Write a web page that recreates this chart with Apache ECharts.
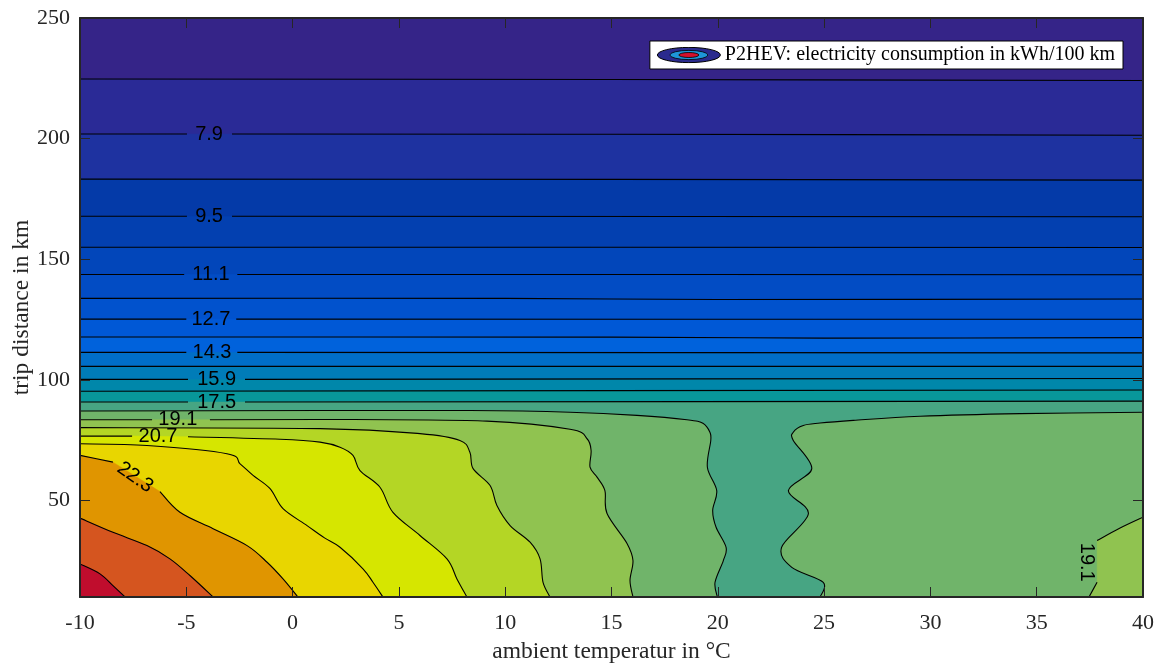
<!DOCTYPE html>
<html><head><meta charset="utf-8">
<script src="https://cdn.jsdelivr.net/npm/echarts@6/dist/echarts.min.js"></script>
<style>html,body{margin:0;padding:0;background:#fff}#c{width:1164px;height:664px}</style>
</head><body><div id="c"></div>
<script>
// ---- axes ----
const xTicks = [-10, -5, 0, 5, 10, 15, 20, 25, 30, 35, 40];
const yTicks = [50, 100, 150, 200, 250];
const xMin = -10, xMax = 40, yMin = 10, yMax = 250;

// ---- contour levels (kWh/100 km) and band colours ----
const levels = [7.1, 7.9, 8.7, 9.5, 10.3, 11.1, 11.9, 12.7, 13.5, 14.3, 15.1, 15.9, 16.7, 17.5, 18.3, 19.1, 19.9, 20.7, 21.5, 22.3, 23.1, 23.9];
const bandColors = ['#352488', '#2a2a96', '#1e32a0', '#043aa8', '#0340b0', '#0246ba', '#024cc4', '#0152cd', '#0058d6', '#0062dc',
  '#006ec8', '#007cb8', '#0087aa', '#08979a', '#47a583', '#70b46a', '#90c350', '#b4d625', '#d6e600', '#e8d600', '#e09500', '#d5551f', '#c00d2d'];

// ---- contour lines: [temperature, distance] points, split where a label sits ----
const c7_1  = [[[-10, 224.7], [15, 224.5], [40, 224.1]]];
const c7_9  = [[[-10, 201.9], [-4.97, 201.9]], [[-2.85, 201.9], [15, 201.8], [40, 201.4]]];
const c8_7  = [[[-10, 183.2], [15, 183.1], [40, 182.8]]];
const c9_5  = [[[-10, 167.8], [-4.97, 167.8]], [[-2.85, 167.8], [40, 167.6]]];
const c10_3 = [[[-10, 155.0], [40, 154.9]]];
const c11_1 = [[[-10, 143.7], [-5.1, 143.7]], [[-2.6, 143.7], [40, 143.6]]];
const c11_9 = [[[-10, 133.8], [10, 133.8], [20, 133.3], [40, 133.5]]];
const c12_7 = [[[-10, 125.2], [-5.0, 125.2]], [[-2.65, 125.2], [40, 125.1]]];
const c13_5 = [[[-10, 117.8], [15, 117.7], [25, 117.3], [40, 117.5]]];
const c14_3 = [[[-10, 111.4], [-5.0, 111.4]], [[-2.6, 111.4], [40, 111.2]]];
const c15_1 = [[[-10, 105.6], [40, 105.6]]];
const c15_9 = [[[-10, 100.2], [-4.92, 100.2]], [[-2.24, 100.2], [40, 100.6]]];
const c16_7 = [[[-10, 95.3], [40, 95.8]]];
const c17_5 = [[[-10, 90.8], [-4.92, 90.8]], [[-2.24, 90.8], [40, 91.2]]];
const c18_3a = [[[-10, 87.1], [1.29, 87.3], [8.34, 87.3], [13.05, 86.6], [16.2, 85.3], [18.55, 83.5], [19.3, 82.0], [19.63, 78.3], [19.67, 74.9],
  [19.51, 63.8], [19.95, 54.1], [19.76, 45.9], [19.92, 38.9], [20.39, 30.6], [20.26, 25.1], [19.87, 16.1], [19.98, 10]]];
const c18_3b = [[[24.81, 10], [24.96, 16.1], [23.48, 22.3], [23.0, 30.6], [24.26, 44.5], [23.32, 54.1], [24.42, 63.2], [23.55, 74.9], [23.55, 78.3],
  [24.02, 81.1], [24.81, 82.1], [26.37, 83.2], [29.51, 84.9], [34.21, 86.0], [40, 86.6]]];
const c19_1a = [[[-10, 83.5], [-6.61, 83.5]], [[-3.89, 83.5], [1.29, 83.6], [9.14, 82.9], [13.05, 79.5], [13.85, 75.6], [14.04, 70.7], [13.99, 63.8],
  [14.32, 59.7], [14.69, 54.1], [14.79, 44.6], [15.73, 32.2], [16.01, 25.1], [15.87, 16.8], [16.01, 10]]];
const c19_1b = [[[37.46, 10], [37.84, 16.1]], [[37.84, 33.4], [38.9, 38.5], [40, 43.1]]];
const c19_9 = [[[-10, 80.2], [1.29, 79.8], [5.99, 77.7], [7.87, 74.9], [8.34, 70.0], [8.49, 63.2], [9.29, 56.2], [9.61, 47.9], [10.23, 39.6],
  [11.17, 32.7], [11.64, 25.8], [11.78, 16.1], [12.11, 10]]];
const c20_7 = [[[-10, 76.7], [-7.55, 76.7]], [[-4.92, 76.4], [-0.59, 75.4], [1.29, 74.2], [2.23, 72.1], [2.84, 68.7], [3.17, 62.4], [4.11, 55.5],
  [4.72, 45.1], [5.99, 35.5], [7.26, 25.8], [7.73, 17.5], [8.20, 10]]];
const c21_5 = [[[-10, 73.5], [-6.85, 72.8], [-3.09, 69.4], [-2.47, 65.2], [-1.86, 60.4], [-1.06, 54.9], [-0.45, 46.6], [0.68, 39.6], [1.5, 34.5],
  [2.23, 30.6], [3.31, 21.7], [3.78, 16.1], [4.25, 10]]];
const c22_3 = [[[-10, 68.7], [-8.45, 65.9]], [[-6.24, 53.7], [-5.30, 45.1], [-3.74, 38.3], [-2.14, 31.3], [-1.20, 24.4], [-0.45, 17.5], [0.25, 10]]];
const c23_1 = [[[-10, 42.7], [-8.45, 36.8], [-6.85, 31.3], [-5.77, 25.8], [-4.83, 18.9], [-3.74, 10]]];
const c23_9 = [[[-10, 23.7], [-9.06, 19.6], [-8.45, 14.7], [-7.88, 10]]];

// ---- contour labels ----
const labelText  = ['7.9', '9.5', '11.1', '12.7', '14.3', '15.9', '17.5', '19.1', '20.7', '22.3', '19.1'];
const labelX     = [-3.93, -3.93, -3.84, -3.84, -3.79, -3.57, -3.57, -5.4, -6.33, -7.41, 37.35];
const labelY     = [201.9, 167.8, 143.7, 125.2, 111.4, 100.2, 90.8, 83.5, 76.6, 59.6, 24.4];
const labelAngle = [0, 0, 0, 0, 0, 0, 0, 0, 0, -35, -90];

const legendName = 'P2HEV: electricity consumption in kWh/100 km';

// ---- build ----
const contourPieces = [
  [7.1, [c7_1]], [7.9, [c7_9]], [8.7, [c8_7]], [9.5, [c9_5]], [10.3, [c10_3]], [11.1, [c11_1]], [11.9, [c11_9]], [12.7, [c12_7]],
  [13.5, [c13_5]], [14.3, [c14_3]], [15.1, [c15_1]], [15.9, [c15_9]], [16.7, [c16_7]], [17.5, [c17_5]], [18.3, [c18_3a, c18_3b]],
  [19.1, [c19_1a, c19_1b]], [19.9, [c19_9]], [20.7, [c20_7]], [21.5, [c21_5]], [22.3, [c22_3]], [23.1, [c23_1]], [23.9, [c23_9]]
];
const fills = [{ color: bandColors[0], segs: [], close: [[xMin, yMin], [xMax, yMin], [xMax, yMax], [xMin, yMax]] }];
const segments = [];
contourPieces.forEach(([lev, pieces]) => {
  const idx = levels.indexOf(lev);
  pieces.forEach(piece => {
    const first = piece[0][0], lastSeg = piece[piece.length - 1], last = lastSeg[lastSeg.length - 1];
    const close = [];
    if (last[0] === xMax && last[1] > yMin) close.push([xMax, yMin]);
    if (first[0] === xMin && first[1] > yMin) close.push([xMin, yMin]);
    fills.push({ color: bandColors[idx + 1], segs: piece, close });
    piece.forEach(s => segments.push(s));
  });
});

// smooth drawing of a screen-space point list (Catmull-Rom -> cubic Bezier)
function curvePath(pts, start) {
  let d = (start ? 'M' : 'L') + pts[0][0].toFixed(2) + ' ' + pts[0][1].toFixed(2);
  for (let i = 0; i < pts.length - 1; i++) {
    const p0 = pts[i > 0 ? i - 1 : i], p1 = pts[i], p2 = pts[i + 1], p3 = pts[i + 2 < pts.length ? i + 2 : i + 1];
    const c1 = [p1[0] + (p2[0] - p0[0]) / 6, p1[1] + (p2[1] - p0[1]) / 6];
    const c2 = [p2[0] - (p3[0] - p1[0]) / 6, p2[1] - (p3[1] - p1[1]) / 6];
    d += ' C' + c1[0].toFixed(2) + ' ' + c1[1].toFixed(2) + ' ' + c2[0].toFixed(2) + ' ' + c2[1].toFixed(2) + ' ' + p2[0].toFixed(2) + ' ' + p2[1].toFixed(2);
  }
  return d;
}

const iconSvg = "<svg xmlns='http://www.w3.org/2000/svg' width='66' height='17' viewBox='0 0 66 17'>" +
  "<ellipse cx='33' cy='8.5' rx='31.5' ry='7.6' fill='#2a2a8e' stroke='#000' stroke-width='1'/>" +
  "<ellipse cx='33' cy='8.5' rx='19' ry='4.6' fill='#1e96d8' stroke='#000' stroke-width='0.8'/>" +
  "<ellipse cx='33' cy='8.5' rx='10' ry='2.5' fill='#d2102d' stroke='#000' stroke-width='0.8'/></svg>";
const iconUrl = 'image://data:image/svg+xml;charset=utf-8,' + encodeURIComponent(iconSvg);

const chart = echarts.init(document.getElementById('c'), null, { renderer: 'canvas' });
const axisColor = '#262626';
const serif = '"Liberation Serif", "Times New Roman", serif';
const tickStyle = { inside: true, length: 10, lineStyle: { color: axisColor, width: 1 } };

chart.setOption({
  animation: false,
  backgroundColor: '#ffffff',
  grid: { left: 80, right: 21, top: 18, bottom: 67, containLabel: false, outerBoundsMode: 'none' },
  legend: {
    data: [{ name: legendName, icon: iconUrl }],
    right: 41, top: 41,
    itemWidth: 66, itemHeight: 17, itemGap: 4,
    padding: [4, 8, 4, 6],
    backgroundColor: '#ffffff', borderColor: '#000000', borderWidth: 1, borderRadius: 0,
    textStyle: { fontFamily: serif, fontSize: 20, color: '#000', padding: [0, 0, 0, -2] },
    selectedMode: false
  },
  xAxis: [
    { type: 'value', min: xMin, max: xMax, interval: 5, position: 'bottom', z: 10,
      axisLine: { show: true, onZero: false, lineStyle: { color: axisColor, width: 2 } },
      axisTick: tickStyle, splitLine: { show: false },
      axisLabel: { fontFamily: serif, fontSize: 22, color: axisColor, margin: 15 },
      name: 'ambient temperatur in °C', nameLocation: 'middle', nameGap: 43,
      nameTextStyle: { fontFamily: serif, fontSize: 23.5, color: axisColor } },
    { type: 'value', min: xMin, max: xMax, interval: 5, position: 'top', z: 10,
      axisLine: { show: true, onZero: false, lineStyle: { color: axisColor, width: 2 } },
      axisTick: tickStyle, splitLine: { show: false }, axisLabel: { show: false } }
  ],
  yAxis: [
    { type: 'value', min: yMin, max: yMax, position: 'left', z: 10,
      axisLine: { show: true, onZero: false, lineStyle: { color: axisColor, width: 2 } },
      axisTick: Object.assign({ customValues: yTicks }, tickStyle), splitLine: { show: false },
      axisLabel: { customValues: yTicks, fontFamily: serif, fontSize: 22, color: axisColor, margin: 10 },
      name: 'trip distance in km', nameLocation: 'middle', nameGap: 46, nameMoveOverlap: false,
      nameTextStyle: { fontFamily: serif, fontSize: 23.5, color: axisColor } },
    { type: 'value', min: yMin, max: yMax, position: 'right', z: 10,
      axisLine: { show: true, onZero: false, lineStyle: { color: axisColor, width: 2 } },
      axisTick: Object.assign({ customValues: yTicks }, tickStyle), splitLine: { show: false },
      axisLabel: { show: false } }
  ],
  series: [
    { name: legendName, type: 'custom', clip: true, silent: true,
      data: fills.map(f => (f.segs.length ? f.segs[0][0] : f.close[0])),
      renderItem: (params, api) => {
        const f = fills[params.dataIndex];
        let d = '';
        f.segs.forEach((s, k) => { d += curvePath(s.map(p => api.coord(p)), k === 0) + ' '; });
        f.close.forEach((p, k) => { const c = api.coord(p); d += ((d === '' && k === 0) ? 'M' : 'L') + c[0].toFixed(2) + ' ' + c[1].toFixed(2) + ' '; });
        d += 'Z';
        return { type: 'path', shape: { pathData: d }, style: { fill: f.color, stroke: f.color, lineWidth: 0.5 } };
      } },
    { name: 'lines', type: 'custom', clip: true, silent: true, z: 3,
      data: segments.map(s => s[0]),
      renderItem: (params, api) => {
        const s = segments[params.dataIndex];
        return { type: 'path', shape: { pathData: curvePath(s.map(p => api.coord(p)), true) }, style: { stroke: '#000', fill: null, lineWidth: 1.1 } };
      } },
    { name: 'labels', type: 'custom', clip: true, silent: true, z: 4,
      data: labelText.map((t, i) => [labelX[i], labelY[i]]),
      renderItem: (params, api) => {
        const i = params.dataIndex;
        const pt = api.coord([labelX[i], labelY[i]]);
        return { type: 'text', x: pt[0], y: pt[1], rotation: labelAngle[i] * Math.PI / 180,
          style: { text: labelText[i], font: '20px "Liberation Sans", Arial, sans-serif', fill: '#000', align: 'center', verticalAlign: 'middle' } };
      } }
  ]
});
</script></body></html>
